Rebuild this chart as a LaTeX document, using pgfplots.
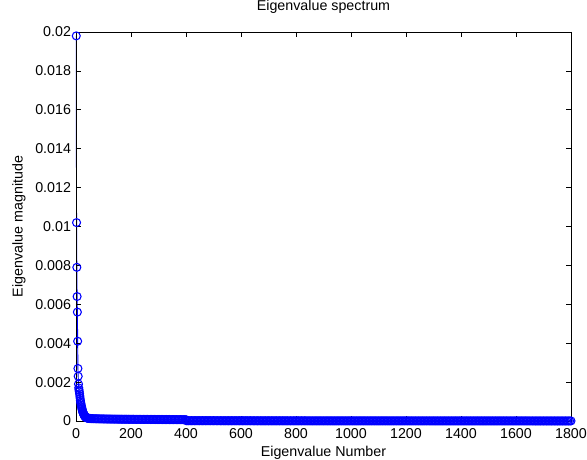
\documentclass[border=0pt]{standalone}
\usepackage{fontspec}
\setmainfont{Liberation Sans}
\usepackage{pgfplots}
\pgfplotsset{compat=1.18}

\begin{document}
\fontsize{10.7}{13}\selectfont
\begin{tikzpicture}
% fixed canvas around the axis box
\useasboundingbox (-57pt,-29.25pt) rectangle (383.25pt,315.75pt);
\begin{axis}[
  scale only axis,
  width=371.25pt, height=291.75pt,
  at={(0,0)}, anchor=south west,
  xmin=0, xmax=1800, ymin=0, ymax=0.02,
  xtick={0,200,400,600,800,1000,1200,1400,1600,1800},
  ytick={0,0.002,0.004,0.006,0.008,0.01,0.012,0.014,0.016,0.018,0.02},
  scaled y ticks=false,
  /pgf/number format/assume math mode=true,
  /pgf/number format/1000 sep={},
  yticklabel style={/pgf/number format/fixed,/pgf/number format/precision=3},
  tick align=inside,
  major tick length=3.75pt,
  tick style={black, line width=0.5pt},
  axis line style={black, line width=0.6pt},
  axis on top,
  clip=false,
  xticklabel style={yshift=-2pt},
  title={Eigenvalue spectrum},
  title style={at={(axis description cs:0.5,1.0437)}, anchor=center},
  xlabel={Eigenvalue Number},
  xlabel style={at={(axis description cs:0.5,-0.0823)}, anchor=center},
  ylabel={Eigenvalue magnitude},
  ylabel style={at={(axis description cs:-0.1152,0.5)}, anchor=center},
]
\addplot[color=blue, line width=0.7pt, mark=o, mark size=3pt,
         mark options={line width=0.8pt}] coordinates {
(1,0.0198) (2,0.0102) (3,0.0079) (4,0.0064) (5,0.0056) (6,0.0041) (7,0.0027) (8,0.0023) (9,0.0019) (10,0.0017)
(11,0.0016) (12,0.0015) (13,0.0014) (14,0.00128) (15,0.00117) (16,0.00106) (17,0.00097) (18,0.00089) (19,0.00081) (20,0.00074)
(21,0.00067) (22,0.00061) (23,0.00055) (24,0.00050) (25,0.00046) (26,0.00042) (27,0.00038) (28,0.00035) (29,0.00032) (30,0.00029)
(31,0.00027) (32,0.00025) (33,0.00023) (34,0.00021) (35,0.00020) (36,0.00019) (37,0.00018) (38,0.00017) (39,0.00016) (40,0.000155)
(42,0.00015) (44,0.000145) (46,0.00014) (48,0.000135) (50,0.00013) (53,0.000127) (56,0.000124) (60,0.00012)
(65,1.18e-4) (70,1.16e-4) (75,1.14e-4) (80,1.12e-4) (85,1.10e-4) (90,1.08e-4) (95,1.07e-4) (100,1.05e-4) (105,1.04e-4) (110,1.02e-4)
(115,1.01e-4) (120,1.00e-4) (125,9.9e-5) (130,9.8e-5) (135,9.7e-5) (140,9.6e-5) (145,9.5e-5) (150,9.4e-5) (155,9.3e-5) (160,9.2e-5)
(165,9.1e-5) (170,9.0e-5) (175,8.95e-5) (180,8.9e-5) (185,8.85e-5) (190,8.8e-5) (195,8.75e-5) (200,8.7e-5) (205,8.65e-5) (210,8.6e-5)
(215,8.55e-5) (220,8.5e-5) (225,8.45e-5) (230,8.4e-5) (235,8.35e-5) (240,8.3e-5) (245,8.25e-5) (250,8.2e-5) (255,8.15e-5) (260,8.1e-5)
(265,8.05e-5) (270,8.0e-5) (275,7.95e-5) (280,7.9e-5) (285,7.85e-5) (290,7.8e-5) (295,7.75e-5) (300,7.7e-5) (305,7.65e-5) (310,7.6e-5)
(315,7.55e-5) (320,7.5e-5) (325,7.45e-5) (330,7.4e-5) (335,7.35e-5) (340,7.3e-5) (345,7.25e-5) (350,7.2e-5) (355,7.15e-5) (360,7.1e-5)
(365,7.05e-5) (370,7.0e-5) (375,6.95e-5) (380,6.9e-5) (385,6.85e-5) (390,6.8e-5) (395,6.75e-5) (400,6.7e-5)
(401,1.62e-5)
(405,16.0e-6) (410,15.9e-6) (415,15.8e-6) (420,15.7e-6) (425,15.6e-6) (430,15.5e-6) (435,15.4e-6) (440,15.3e-6) (445,15.2e-6) (450,15.1e-6)
(455,15.0e-6) (460,14.9e-6) (465,14.8e-6) (470,14.7e-6) (475,14.6e-6) (480,14.5e-6) (485,14.4e-6) (490,14.3e-6) (495,14.2e-6) (500,14.1e-6)
(505,14.0e-6) (510,13.9e-6) (515,13.8e-6) (520,13.7e-6) (525,13.6e-6) (530,13.5e-6) (535,13.4e-6) (540,13.3e-6) (545,13.2e-6) (550,13.1e-6)
(555,13.0e-6) (560,12.9e-6) (565,12.8e-6) (570,12.7e-6) (575,12.6e-6) (580,12.5e-6) (585,12.4e-6) (590,12.3e-6) (595,12.2e-6) (600,12.1e-6)
(605,12.0e-6) (610,11.9e-6) (615,11.8e-6) (620,11.7e-6) (625,11.6e-6) (630,11.5e-6) (635,11.4e-6) (640,11.3e-6) (645,11.2e-6) (650,11.1e-6)
(655,11.0e-6) (660,10.9e-6) (665,10.8e-6) (670,10.7e-6) (675,10.6e-6) (680,10.5e-6) (685,10.4e-6) (690,10.3e-6) (695,10.2e-6) (700,10.1e-6)
(705,10.0e-6) (710,9.9e-6) (715,9.8e-6) (720,9.7e-6) (725,9.6e-6) (730,9.5e-6) (735,9.4e-6) (740,9.3e-6) (745,9.2e-6) (750,9.1e-6)
(755,9.05e-6) (760,9.02e-6) (765,8.99e-6) (770,8.96e-6) (775,8.93e-6) (780,8.90e-6) (785,8.87e-6) (790,8.84e-6) (795,8.81e-6) (800,8.78e-6)
(805,8.75e-6) (810,8.72e-6) (815,8.69e-6) (820,8.66e-6) (825,8.63e-6) (830,8.60e-6) (835,8.57e-6) (840,8.54e-6) (845,8.51e-6) (850,8.48e-6)
(855,8.45e-6) (860,8.42e-6) (865,8.39e-6) (870,8.36e-6) (875,8.33e-6) (880,8.30e-6) (885,8.27e-6) (890,8.24e-6) (895,8.21e-6) (900,8.18e-6)
(905,8.15e-6) (910,8.12e-6) (915,8.09e-6) (920,8.06e-6) (925,8.03e-6) (930,8.00e-6) (935,7.97e-6) (940,7.94e-6) (945,7.91e-6) (950,7.88e-6)
(955,7.85e-6) (960,7.82e-6) (965,7.79e-6) (970,7.76e-6) (975,7.73e-6) (980,7.70e-6) (985,7.67e-6) (990,7.64e-6) (995,7.61e-6) (1000,7.58e-6)
(1005,7.55e-6) (1010,7.52e-6) (1015,7.49e-6) (1020,7.46e-6) (1025,7.43e-6) (1030,7.40e-6) (1035,7.37e-6) (1040,7.34e-6) (1045,7.31e-6) (1050,7.28e-6)
(1055,7.25e-6) (1060,7.22e-6) (1065,7.19e-6) (1070,7.16e-6) (1075,7.13e-6) (1080,7.10e-6) (1085,7.07e-6) (1090,7.04e-6) (1095,7.01e-6) (1100,6.98e-6)
(1105,6.95e-6) (1110,6.92e-6) (1115,6.89e-6) (1120,6.86e-6) (1125,6.83e-6) (1130,6.80e-6) (1135,6.77e-6) (1140,6.74e-6) (1145,6.71e-6) (1150,6.68e-6)
(1155,6.65e-6) (1160,6.62e-6) (1165,6.59e-6) (1170,6.56e-6) (1175,6.53e-6) (1180,6.50e-6) (1185,6.47e-6) (1190,6.44e-6) (1195,6.41e-6) (1200,6.38e-6)
(1205,6.35e-6) (1210,6.32e-6) (1215,6.29e-6) (1220,6.26e-6) (1225,6.23e-6) (1230,6.20e-6) (1235,6.17e-6) (1240,6.14e-6) (1245,6.11e-6) (1250,6.08e-6)
(1255,6.05e-6) (1260,6.02e-6) (1265,5.99e-6) (1270,5.96e-6) (1275,5.93e-6) (1280,5.90e-6) (1285,5.87e-6) (1290,5.84e-6) (1295,5.81e-6) (1300,5.78e-6)
(1305,5.75e-6) (1310,5.72e-6) (1315,5.69e-6) (1320,5.66e-6) (1325,5.63e-6) (1330,5.60e-6) (1335,5.57e-6) (1340,5.54e-6) (1345,5.51e-6) (1350,5.48e-6)
(1355,5.45e-6) (1360,5.42e-6) (1365,5.39e-6) (1370,5.36e-6) (1375,5.33e-6) (1380,5.30e-6) (1385,5.27e-6) (1390,5.24e-6) (1395,5.21e-6) (1400,5.18e-6)
(1405,5.15e-6) (1410,5.12e-6) (1415,5.09e-6) (1420,5.06e-6) (1425,5.03e-6) (1430,5.00e-6) (1435,4.97e-6) (1440,4.94e-6) (1445,4.91e-6) (1450,4.88e-6)
(1455,4.85e-6) (1460,4.82e-6) (1465,4.79e-6) (1470,4.76e-6) (1475,4.73e-6) (1480,4.70e-6) (1485,4.67e-6) (1490,4.64e-6) (1495,4.61e-6) (1500,4.58e-6)
(1505,4.55e-6) (1510,4.52e-6) (1515,4.49e-6) (1520,4.46e-6) (1525,4.43e-6) (1530,4.40e-6) (1535,4.37e-6) (1540,4.34e-6) (1545,4.31e-6) (1550,4.28e-6)
(1555,4.25e-6) (1560,4.22e-6) (1565,4.19e-6) (1570,4.16e-6) (1575,4.13e-6) (1580,4.10e-6) (1585,4.07e-6) (1590,4.04e-6) (1595,4.01e-6) (1600,3.98e-6)
(1605,3.95e-6) (1610,3.92e-6) (1615,3.89e-6) (1620,3.86e-6) (1625,3.83e-6) (1630,3.80e-6) (1635,3.77e-6) (1640,3.74e-6) (1645,3.71e-6) (1650,3.68e-6)
(1655,3.65e-6) (1660,3.62e-6) (1665,3.59e-6) (1670,3.56e-6) (1675,3.53e-6) (1680,3.50e-6) (1685,3.47e-6) (1690,3.44e-6) (1695,3.41e-6) (1700,3.38e-6)
(1705,3.35e-6) (1710,3.32e-6) (1715,3.29e-6) (1720,3.26e-6) (1725,3.23e-6) (1730,3.20e-6) (1735,3.17e-6) (1740,3.14e-6) (1745,3.11e-6) (1750,3.08e-6)
(1755,3.05e-6) (1760,3.02e-6) (1765,2.99e-6) (1770,2.96e-6) (1775,2.93e-6) (1780,2.90e-6) (1785,2.87e-6) (1790,2.84e-6) (1795,2.81e-6) (1800,2.78e-6)
};
\end{axis}
\end{tikzpicture}
\end{document}
